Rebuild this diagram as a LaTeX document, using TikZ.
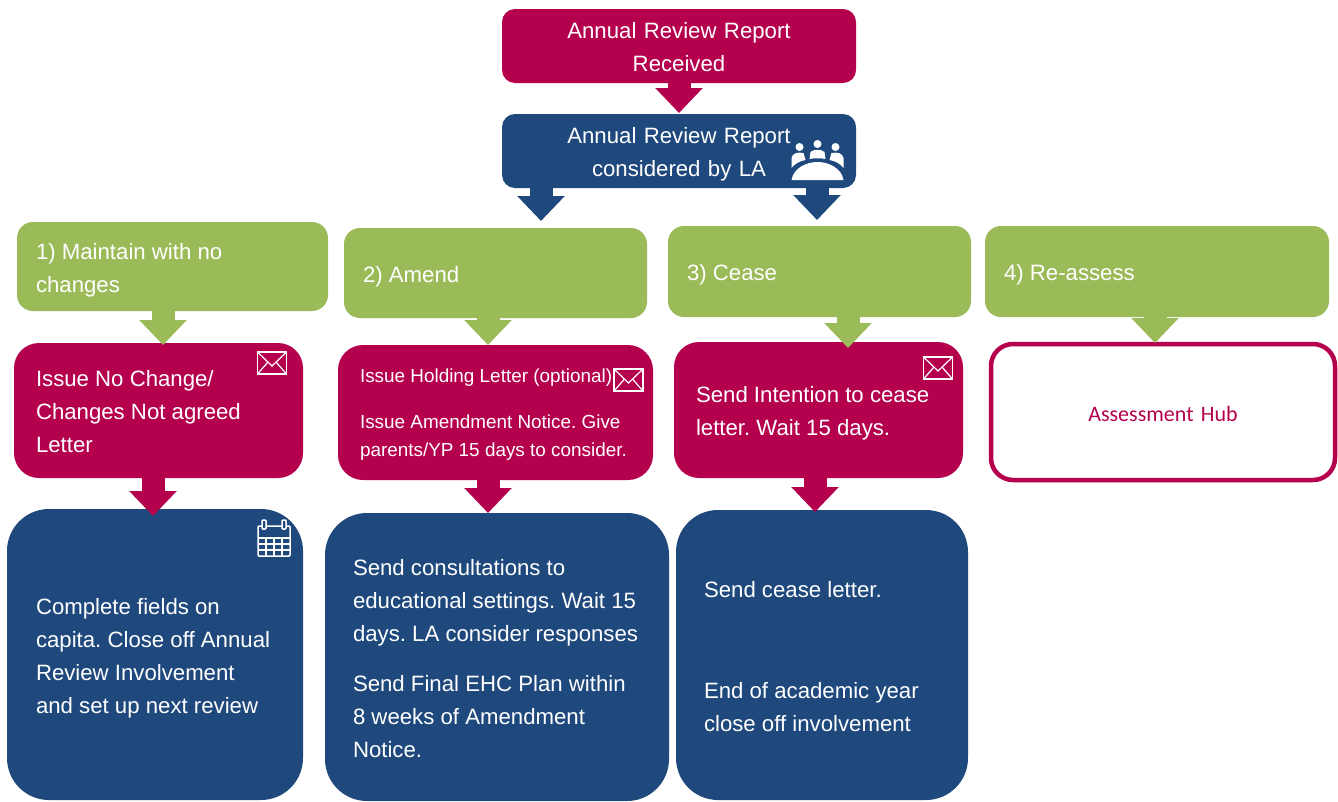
\documentclass[tikz,border=0pt]{standalone}
\usepackage{fontspec}
\setmainfont{Liberation Sans}
\newfontfamily\hubfont{Carlito}
\usetikzlibrary{arrows.meta}
\definecolor{rpink}{HTML}{B5004E}
\definecolor{rblue}{HTML}{1F497D}
\definecolor{rgreen}{HTML}{9BBB59}
\tikzset{
  envelope/.pic={
    \draw[white,line width=1.6pt] (-14.5,-11) rectangle (14.5,11);
    \draw[white,line width=1.2pt] (-14.5,-11) -- (0,3) -- (14.5,-11);
    \draw[white,line width=1.2pt] (-14.5,11) -- (-4,-1) (14.5,11) -- (4,-1);
  },
  calendar/.pic={
    \draw[white,line width=1.5pt,rounded corners=1pt] (-16,-12) rectangle (16,18);
    \fill[white] (-16,-1) rectangle (16,1);
    \draw[white,line width=1.3pt] (-16,6) -- (16,6) (-16,12) -- (16,12)
      (-8,0) -- (-8,18) (0,0) -- (0,18) (8,0) -- (8,18);
    \draw[white,line width=1.5pt,fill=rblue,rounded corners=1pt] (-12,-18) rectangle (-8,-9);
    \draw[white,line width=1.5pt,fill=rblue,rounded corners=1pt] (8,-18) rectangle (12,-9);
  },
  people/.pic={
    \fill[white] (-18,-33) circle (4) (0,-36) circle (4) (18,-33) circle (4);
    \fill[white] (-26,-12) -- (-26,-22) .. controls (-25,-27) and (-20,-28) .. (-14,-27) -- (-12,-20) .. controls (-18,-19) and (-23,-16) .. cycle;
    \fill[white] (26,-12) -- (26,-22) .. controls (25,-27) and (20,-28) .. (14,-27) -- (12,-20) .. controls (18,-19) and (23,-16) .. cycle;
    \fill[white] (-8,-21) -- (-7,-28) .. controls (-4,-31) and (4,-31) .. (7,-28) -- (8,-21) .. controls (3,-22) and (-3,-22) .. cycle;
    \fill[white] (-26,0) .. controls (-24,-12) and (-11,-18) .. (0,-18) .. controls (11,-18) and (24,-12) .. (26,0) -- cycle;
  }
}
\begin{document}
\begin{tikzpicture}[
          x=1pt,y=-1pt,
          box/.style n args={2}{minimum width=#1,minimum height=#2,inner ysep=0pt,outer sep=0pt,text=white,
            font=\frenchspacing\fontsize{22.2}{33}\selectfont,
            execute at begin node={\rule{0pt}{24pt}},execute at end node={\rule[-6pt]{0pt}{0pt}}},
          red/.style={box={354pt}{74pt},fill=rpink,rounded corners=13pt,align=center,text width=330pt},
          nav/.style={box={354pt}{74pt},fill=rblue,rounded corners=13pt,align=center,text width=330pt},
          grn/.style={fill=rgreen,rounded corners=16pt,align=flush left,inner xsep=19pt},
          act/.style={fill=rpink,rounded corners=25pt,align=flush left,inner xsep=22pt},
          res/.style={fill=rblue,rounded corners=42pt,align=flush left,inner xsep=28pt},
          gar/.style={line width=23pt,rgreen,-{Triangle[length=25pt,width=46pt]}},
          par/.style={line width=23pt,rpink,-{Triangle[length=25pt,width=46pt]}},
          bar/.style={line width=23pt,rblue,-{Triangle[length=25pt,width=46pt]}}
          ]
          \useasboundingbox (0,0) rectangle (1338,801);
          \node[red] (recv) at (679,46) {Annual Review Report\\Received};
          \node[nav] (la) at (679,151) {Annual Review Report\\considered by LA};
          \node[box={311pt}{89pt},grn,text width=273pt] (g1) at (172.5,266.5) {1) Maintain with no\\changes};
          \node[box={303pt}{90pt},grn,text width=265pt] (g2) at (495.5,273) {2) Amend};
          \node[box={303pt}{91pt},grn,text width=265pt] (g3) at (819.5,271.5) {3) Cease};
          \node[box={344pt}{91pt},grn,text width=306pt] (g4) at (1157,271.5) {4) Re-assess};
          \node[box={289pt}{135pt},act,text width=245pt] (a1) at (158.5,410.5) {Issue No Change/\\Changes Not agreed\\Letter};
          \node[box={315pt}{135pt},act,text width=271pt,font=\frenchspacing\fontsize{18.9}{28}\selectfont,
            execute at end node={\rule[-10pt]{0pt}{0pt}}] (a2) at (495.5,412.5)
            {Issue Holding Letter (optional)\\[18pt]Issue Amendment Notice. Give\\parents/YP 15 days to consider.};
          \node[box={289pt}{136pt},act,text width=245pt] (a3) at (818.5,410) {Send Intention to cease\\letter. Wait 15 days.};
          \node[box={344pt}{136pt},draw=rpink,line width=4.5pt,fill=white,rounded corners=22pt,text=rpink,align=center,text width=300pt,
            font=\hubfont\fontsize{22}{25}\selectfont] (hub) at (1163,412) {Assessment Hub};
          \node[box={296pt}{291pt},res,inner xsep=29pt,text width=238pt] (r1) at (155,654.5)
            {Complete fields on\\capita. Close off Annual\\Review Involvement\\and set up next review};
          \node[box={344pt}{288pt},res,text width=288pt] (r2) at (497,657)
            {Send consultations to\\educational settings. Wait 15\\days. LA consider responses\\[17pt]Send Final EHC Plan within\\8 weeks of Amendment\\Notice.};
          \node[box={292pt}{290pt},res,text width=236pt] (r3) at (822,655)
            {Send cease letter.\\[68pt]End of academic year\\close off involvement};
          \draw[par] (recv.south) -- ([yshift=-30pt]recv.south);
          \draw[bar] ([xshift=-138pt]la.south) -- ([xshift=-138pt,yshift=-33pt]la.south);
          \draw[bar] ([xshift=138pt]la.south) -- ([xshift=138pt,yshift=-32pt]la.south);
          \draw[gar] ([xshift=-9.5pt]g1.south) -- ([xshift=-9.5pt,yshift=-34pt]g1.south);
          \draw[gar] ([xshift=-7.5pt]g2.south) -- ([xshift=-7.5pt,yshift=-27pt]g2.south);
          \draw[gar] ([xshift=28.5pt]g3.south) -- ([xshift=28.5pt,yshift=-31pt]g3.south);
          \draw[gar] ([xshift=-2pt]g4.south) -- ([xshift=-2pt,yshift=-26pt]g4.south);
          \draw[par] ([xshift=-5.5pt]a1.south) -- ([xshift=-5.5pt,yshift=-38pt]a1.south);
          \draw[par] ([xshift=-7.5pt]a2.south) -- ([xshift=-7.5pt,yshift=-33pt]a2.south);
          \draw[par] ([xshift=-3.5pt]a3.south) -- ([xshift=-3.5pt,yshift=-34pt]a3.south);
          \pic at (272,363) {envelope};
          \pic at (628.5,380) {envelope};
          \pic at (938,368) {envelope};
          \pic at (274,538) {calendar};
          \pic at (817.5,180) {people};
        \end{tikzpicture}
\end{document}
